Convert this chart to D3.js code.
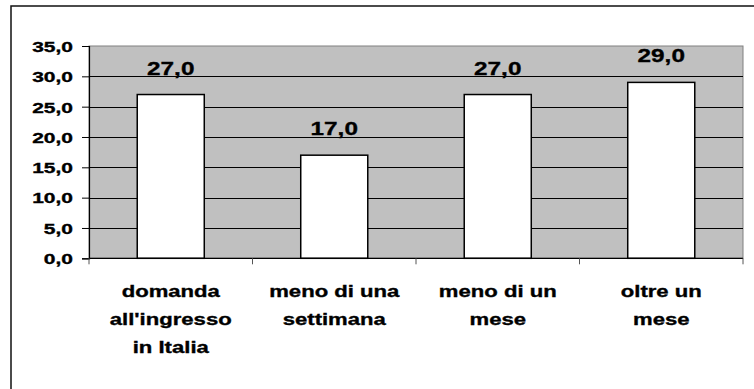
<!DOCTYPE html>
<html>
<head>
<meta charset="utf-8">
<script src="https://cdn.jsdelivr.net/npm/d3@7"></script>
<style>
  html, body { margin: 0; padding: 0; background: #fff; }
  svg { display: block; }
  text { font-family: "Liberation Sans", Arial, sans-serif; font-weight: bold; fill: #000; stroke: #000; stroke-width: 0.35px; }
</style>
</head>
<body>
<svg id="chart" width="754" height="389"></svg>
<script>
// Chart data
const categories = ["domanda\nall'ingresso\nin Italia", "meno di una\nsettimana", "meno di un\nmese", "oltre un\nmese"];
const values = [27.0, 17.0, 27.0, 29.0];
const yTicks = [0, 5, 10, 15, 20, 25, 30, 35];

const W = 754, H = 389;
const margin = { top: 46, right: 11, bottom: 130.7, left: 89 };
const innerW = W - margin.left - margin.right;
const innerH = H - margin.top - margin.bottom;

const svg = d3.select("#chart");

// Outer chart frame (only top and left edges fall inside the canvas)
svg.append("rect")
  .attr("x", 11).attr("y", 6)
  .attr("width", W + 20).attr("height", H + 20)
  .attr("fill", "none").attr("stroke", "#111").attr("stroke-width", 1.5);

const it = d3.formatLocale({ decimal: ",", thousands: ".", grouping: [3], currency: ["€", ""] });
const fmt = it.format(".1f");

const x = d3.scaleBand().domain(categories).range([0, innerW])
  .paddingInner(0.59).paddingOuter(0.295);
const y = d3.scaleLinear().domain([0, 35]).range([innerH, 0]);

const g = svg.append("g").attr("transform", `translate(${margin.left},${margin.top})`);

// Plot area
g.append("rect")
  .attr("x", 0).attr("y", y(35))
  .attr("width", innerW).attr("height", y(0) - y(35))
  .attr("fill", "#c0c0c0").attr("stroke", "#808080").attr("stroke-width", 1);

// Gridlines
g.append("g").selectAll("line")
  .data(yTicks.filter(t => t > 0 && t < 35))
  .join("line")
  .attr("x1", 0).attr("x2", innerW)
  .attr("y1", d => Math.round(y(d)) + 0.5).attr("y2", d => Math.round(y(d)) + 0.5)
  .attr("stroke", "#000").attr("stroke-width", 1);

// Bars
g.append("g").selectAll("rect")
  .data(values)
  .join("rect")
  .attr("x", (d, i) => x(categories[i]))
  .attr("y", d => y(d))
  .attr("width", x.bandwidth())
  .attr("height", d => y(0) - y(d))
  .attr("fill", "#fff").attr("stroke", "#000").attr("stroke-width", 1.5);

// Value labels
g.append("g").selectAll("text")
  .data(values)
  .join("text")
  .attr("text-anchor", "middle")
  .attr("font-size", 19)
  .attr("transform", (d, i) => `translate(${x(categories[i]) + x.bandwidth() / 2},${y(d) - 20}) scale(1.28,1)`)
  .text(d => fmt(d));

// Y axis
const yAxis = g.append("g")
  .call(d3.axisLeft(y).tickValues(yTicks).tickSize(7).tickFormat(fmt));
yAxis.select(".domain").attr("stroke", "#000").attr("stroke-width", 1.2);
yAxis.selectAll(".tick line").attr("stroke", "#000");
yAxis.selectAll(".tick text")
  .attr("x", 0).attr("dy", null)
  .attr("dominant-baseline", "central")
  .attr("text-anchor", "end")
  .attr("font-size", 15)
  .attr("font-family", null)
  .attr("fill", null)
  .attr("transform", "translate(-16,0) scale(1.4,1)");

// X axis with ticks at band boundaries
const xAxis = g.append("g").attr("transform", `translate(0,${innerH})`);
xAxis.append("line")
  .attr("x1", 0).attr("x2", innerW).attr("y1", 0).attr("y2", 0)
  .attr("stroke", "#000").attr("stroke-width", 1.2);
const boundaries = categories.map(c => x(c) - x.step() * x.paddingInner() / 2);
boundaries[0] = 0;
boundaries.push(innerW);
xAxis.selectAll("line.tick")
  .data(boundaries)
  .join("line").attr("class", "tick")
  .attr("x1", d => d).attr("x2", d => d)
  .attr("y1", 0).attr("y2", 6)
  .attr("stroke", "#555").attr("stroke-width", 1);

// Category labels
const lineGap = 28.3;
xAxis.selectAll("text.cat")
  .data(categories)
  .join("text").attr("class", "cat")
  .attr("text-anchor", "middle")
  .attr("font-size", 17)
  .attr("transform", d => `translate(${x(d) + x.bandwidth() / 2},38.4) scale(1.3,1)`)
  .each(function (d) {
    d3.select(this).selectAll("tspan")
      .data(d.split("\n"))
      .join("tspan")
      .attr("x", 0)
      .attr("y", (s, i) => i * lineGap)
      .text(s => s);
  });
</script>
</body>
</html>
